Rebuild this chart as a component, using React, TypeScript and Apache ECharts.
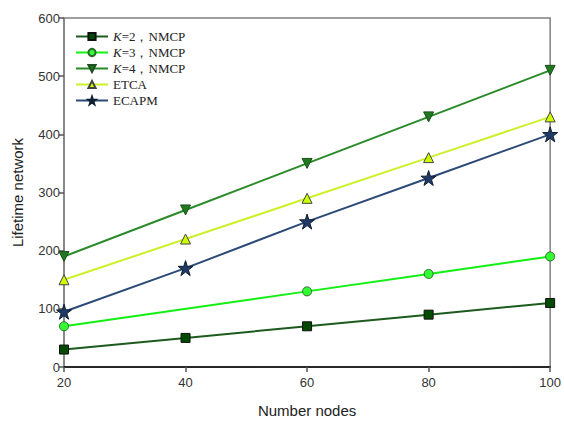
import React, { useEffect, useRef } from "react";
import * as echarts from "echarts";

const nodes = [20, 40, 60, 80, 100];
const k2 = [30, 50, 70, 90, 110];
const k3Nodes = [20, 60, 80, 100];
const k3 = [70, 130, 160, 190];
const k4 = [190, 270, 350, 430, 510];
const etca = [150, 220, 290, 360, 430];
const ecapm = [95, 170, 250, 325, 400];
const yTicks = [0, 100, 200, 300, 400, 500, 600];

const STAR =
  "path://M50,0 L61.8,36.2 L100,36.2 L69.1,58.8 L80.9,95.1 L50,72.7 L19.1,95.1 L30.9,58.8 L0,36.2 L38.2,36.2 Z";

export default function App() {
  const ref = useRef<HTMLDivElement>(null);
  useEffect(() => {
    if (!ref.current) return;
    const chart = echarts.init(ref.current, undefined, { renderer: "svg" });
    const pair = (xs: number[], ys: number[]) => xs.map((x, i) => [x, ys[i]]);
    const mk = (
      name: string,
      data: number[][],
      lineColor: string,
      fill: string,
      border: string,
      symbol: string,
      size: number,
      rotate = 0
    ) => ({
      name,
      type: "line",
      data,
      symbol,
      symbolSize: size,
      symbolRotate: rotate,
      showAllSymbol: true,
      lineStyle: { color: lineColor, width: 2 },
      itemStyle: { color: fill, borderColor: border, borderWidth: 1 },
      emphasis: { disabled: true },
      z: 3,
    });
    chart.setOption({
      animation: false,
      backgroundColor: "#fff",
      grid: {
        left: 64,
        right: 12,
        top: 18,
        bottom: 52,
        show: true,
        borderColor: "#808080",
        borderWidth: 1.5,
      },
      legend: {
        orient: "vertical",
        left: 70,
        top: 25,
        itemWidth: 32,
        itemHeight: 9,
        itemGap: 3,
        data: ["K=2，NMCP", "K=3，NMCP", "K=4，NMCP", "ETCA", "ECAPM"],
        formatter: (name: string) => {
          if (name.startsWith("K")) return "{i|K}{n|" + name.slice(1) + "}";
          return "{n|" + name + "}";
        },
        textStyle: {
          rich: {
            i: {
              fontFamily: "Liberation Serif",
              fontStyle: "italic",
              fontSize: 13,
              color: "#222",
            },
            n: { fontFamily: "Liberation Serif", fontSize: 13, color: "#222" },
          },
        },
      },
      xAxis: {
        type: "value",
        min: 20,
        max: 100,
        interval: 20,
        name: "Number nodes",
        nameLocation: "middle",
        nameGap: 36,
        nameTextStyle: { fontFamily: "Liberation Sans", fontSize: 15, color: "#222" },
        axisLine: { lineStyle: { color: "#000", width: 1.5 } },
        axisTick: { show: true, length: 5, lineStyle: { color: "#555", width: 1.5 } },
        axisLabel: {
          fontFamily: "Liberation Sans",
          fontSize: 13,
          color: "#333",
          margin: 9,
        },
        splitLine: { show: false },
      },
      yAxis: {
        type: "value",
        min: 0,
        max: 600,
        interval: 100,
        name: "Lifetime network",
        nameLocation: "middle",
        nameGap: 39,
        nameTextStyle: { fontFamily: "Liberation Sans", fontSize: 15, color: "#222" },
        axisLine: { show: true, lineStyle: { color: "#808080", width: 1.5 } },
        axisTick: { show: true, length: 5, lineStyle: { color: "#555", width: 1.5 } },
        axisLabel: {
          fontFamily: "Liberation Sans",
          fontSize: 13,
          color: "#333",
          margin: 4,
          formatter: (v: number) => (yTicks.includes(v) ? String(v) : ""),
        },
        splitLine: { show: false },
      },
      series: [
        mk("K=2，NMCP", pair(nodes, k2), "#1d5a1d", "#004b00", "#111", "rect", 9),
        mk("K=3，NMCP", pair(k3Nodes, k3), "#11f011", "#33ff33", "#2a6a2a", "circle", 9),
        mk("K=4，NMCP", pair(nodes, k4), "#2a8a2a", "#1f7a1f", "#1f4f1f", "triangle", 10, 180),
        mk("ETCA", pair(nodes, etca), "#ccf02a", "#ccff00", "#444", "triangle", 10),
        mk("ECAPM", pair(nodes, ecapm), "#2c4a78", "#1f3a66", "#0f1f33", STAR, 15),
      ],
    });
    return () => chart.dispose();
  }, []);
  return <div ref={ref} style={{ width: 564, height: 423, position: "absolute", left: 0, top: 0 }} />;
}
